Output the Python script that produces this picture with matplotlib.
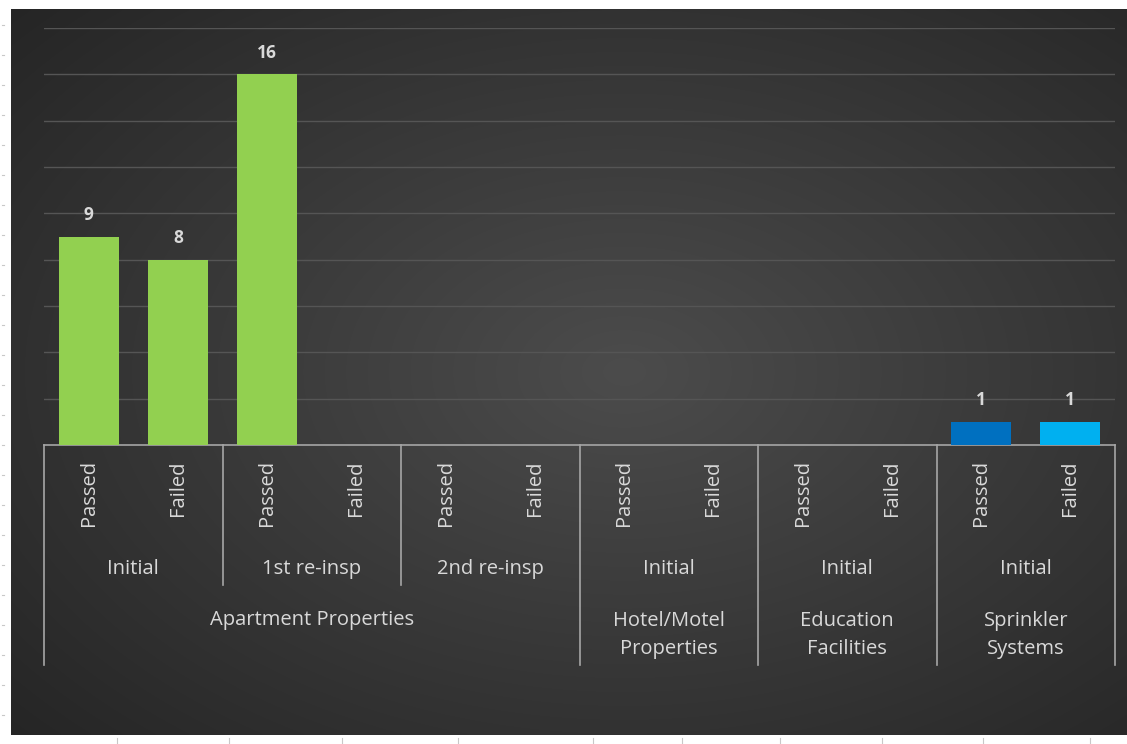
import matplotlib
matplotlib.use("Agg")
import matplotlib.pyplot as plt
import matplotlib.transforms as mtransforms
import numpy as np

# chart data
level1 = ["Apartment Properties"] * 6 + ["Hotel/Motel\nProperties"] * 2 + \
         ["Education\nFacilities"] * 2 + ["Sprinkler\nSystems"] * 2
level2 = ["Initial", "Initial", "1st re-insp", "1st re-insp", "2nd re-insp", "2nd re-insp",
          "Initial", "Initial", "Initial", "Initial", "Initial", "Initial"]
level3 = ["Passed", "Failed"] * 6
values = [9, 8, 16, 0, 0, 0, 0, 0, 0, 0, 1, 1]
bar_colors = ["#92d050"] * 10 + ["#0070c0", "#00b0f0"]

plt.rcParams['font.family'] = ['Open Sans', 'DejaVu Sans']
txt_col = "#d9d9d9"
line_col = "#a6a6a6"

W, H = 1127, 744
fig = plt.figure(figsize=(W / 100, H / 100), dpi=100, facecolor="white")

# faint spreadsheet cell marks around the chart
for y in range(25, 735, 30):
    fig.add_artist(plt.Line2D([2 / W, 4 / W], [1 - y / H, 1 - y / H], color="#c8c8c8", lw=0.8))
for x in [117, 229, 342, 458, 593, 682, 780, 882, 983, 1090]:
    fig.add_artist(plt.Line2D([x / W, x / W], [0, 6 / H], color="#c8c8c8", lw=0.8))

# dark radial gradient chart area
bg = fig.add_axes([11 / W, 9 / H, 1116 / W, 726 / H])
yy, xx = np.mgrid[0:1:300j, 0:1:450j]
r = np.sqrt(((xx - 0.55) / 0.75) ** 2 + ((yy - 0.5) / 0.75) ** 2)
r = np.clip(r, 0, 1)
inner, outer = 0x4c / 255, 0x25 / 255
g = inner + (outer - inner) * r
bg.imshow(np.dstack([g, g, g]), aspect="auto", extent=[0, 1, 0, 1], interpolation="bilinear")
bg.set_axis_off()

ax = fig.add_axes([44 / W, (H - 445) / H, 1071 / W, 417 / H])
ax.set_facecolor("none")
n = len(values)
xpos = np.arange(n)
ax.set_xlim(-0.5, n - 0.5)
ax.set_ylim(0, 18)
ax.set_yticks(np.arange(2, 19, 2))
ax.grid(axis="y", color="#555555", lw=1)
ax.set_axisbelow(True)
ax.tick_params(left=False, labelleft=False, bottom=False, labelbottom=False)
for s in ["left", "right", "top"]:
    ax.spines[s].set_visible(False)
ax.spines["bottom"].set_color(line_col)
ax.spines["bottom"].set_linewidth(1.2)

bars = ax.bar(xpos, values, width=0.67, color=bar_colors, zorder=3)
for b, v in zip(bars, values):
    if v > 0:
        ax.text(b.get_x() + b.get_width() / 2, v + 0.55, str(v), ha="center", va="bottom",
                color=txt_col, fontsize=12.5, fontweight="bold")

trans = mtransforms.blended_transform_factory(ax.transData, ax.transAxes)


def ypix(y):
    # pixel row in the figure -> axes fraction
    return (445 - y) / 417


# level 3 labels (rotated)
for i, lab in enumerate(level3):
    ax.text(i, ypix(460), lab, rotation=90, ha="center", va="top", color=txt_col,
            fontsize=14.5, transform=trans, clip_on=False)


def spans(keys):
    out = []
    start = 0
    for i in range(1, len(keys) + 1):
        if i == len(keys) or keys[i] != keys[start]:
            out.append((start, i - 1, keys[start]))
            start = i
    return out


keys2 = list(zip(level1, level2))
for a, b, (l1, l2) in spans(keys2):
    ax.text((a + b) / 2, ypix(569), l2, ha="center", va="center", color=txt_col,
            fontsize=14.5, transform=trans, clip_on=False)
for a, b, l1 in spans(level1):
    nl = l1.count("\n") + 1
    ax.text((a + b) / 2, ypix(620 + 15 * (nl - 1)), l1, ha="center", va="center",
            color=txt_col, fontsize=14.5, linespacing=1.55, transform=trans, clip_on=False)

# separators
l1_edges = set([-0.5, n - 0.5] + [b + 0.5 for a, b, l in spans(level1)])
l2_edges = set(b + 0.5 for a, b, l in spans(keys2)) - l1_edges
for x in l1_edges:
    ax.plot([x, x], [0, ypix(665)], color=line_col, lw=1.2, transform=trans, clip_on=False)
for x in l2_edges:
    ax.plot([x, x], [0, ypix(585)], color=line_col, lw=1.2, transform=trans, clip_on=False)

fig.savefig("out.png", dpi=100, facecolor="white")
